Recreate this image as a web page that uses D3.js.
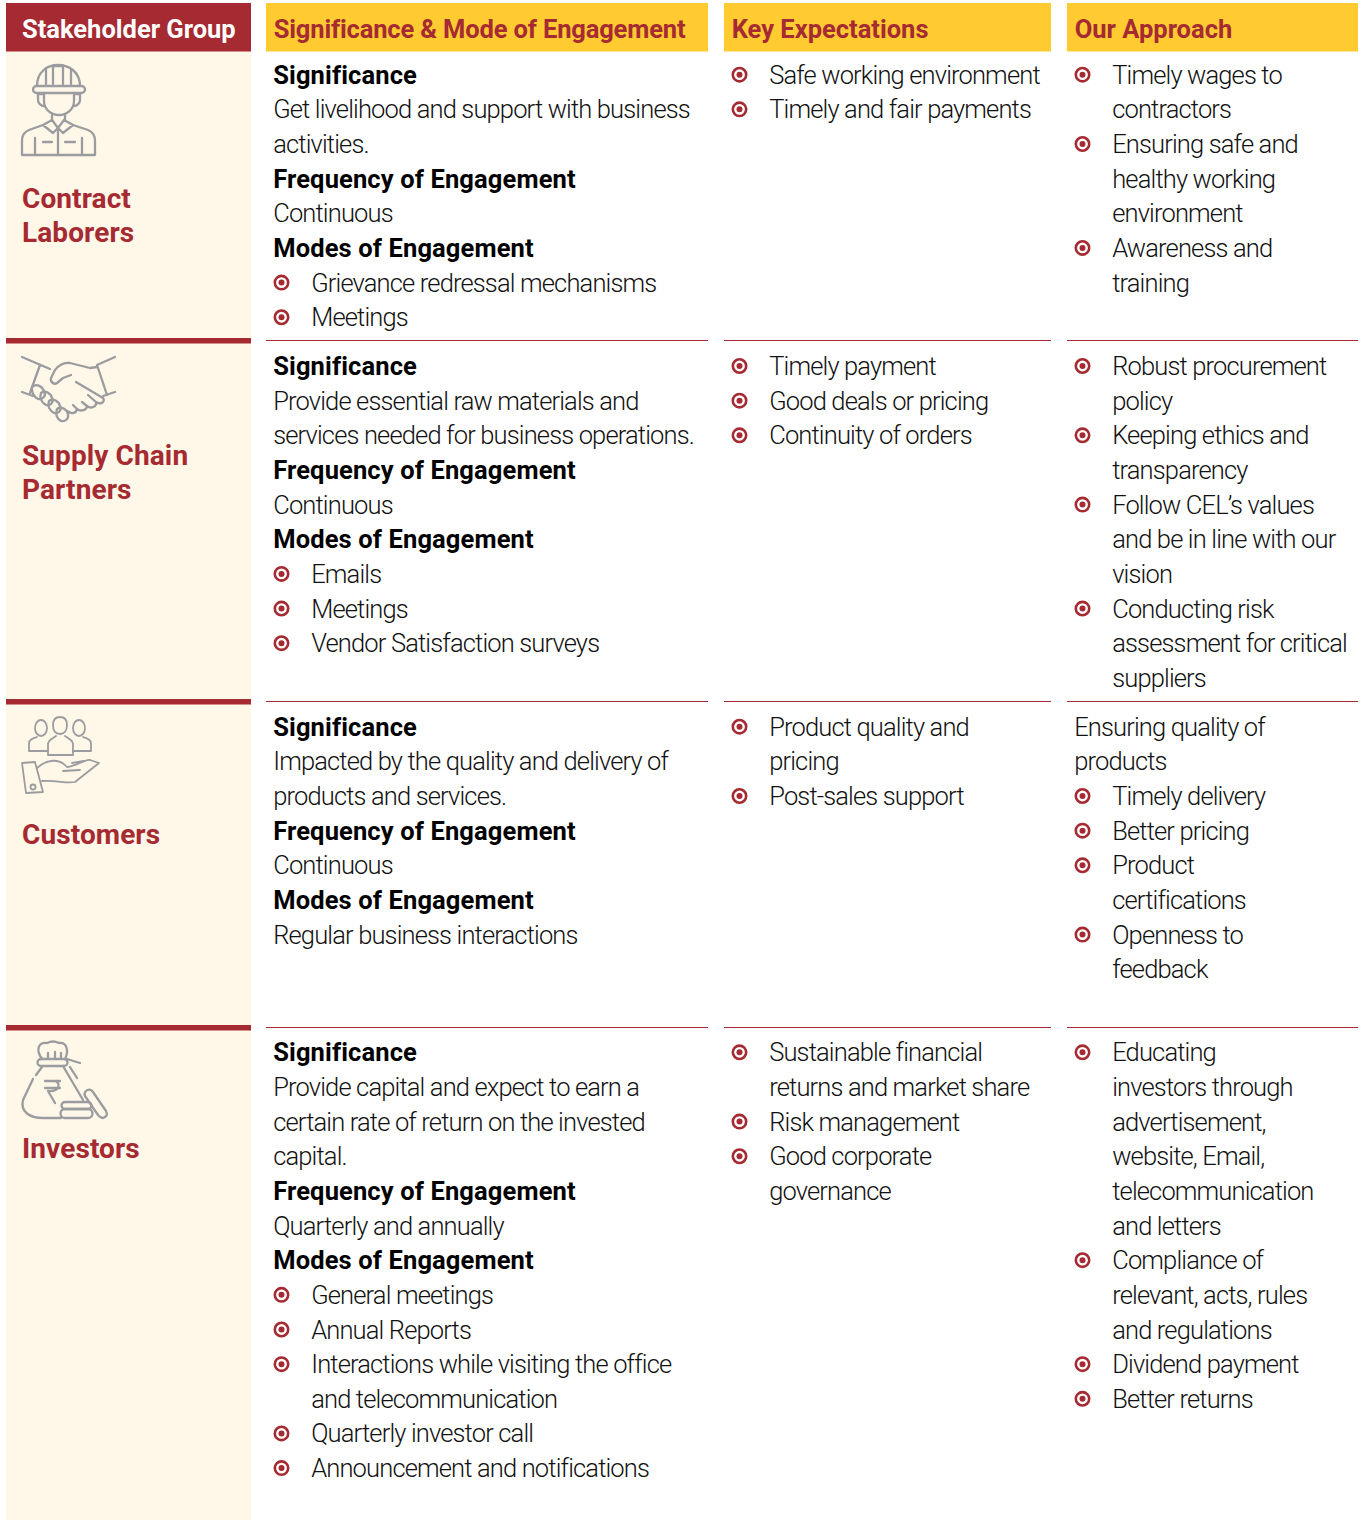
<!DOCTYPE html>
<html>
<head>
<meta charset="utf-8">
<script src="https://cdn.jsdelivr.net/npm/d3@7"></script>
<style>
html, body { margin: 0; padding: 0; background: #fff; }
svg { display: block; }
text { font-family: Roboto, sans-serif; }
.icon { fill: none; stroke: #9a9c9f; stroke-width: 2.3; stroke-linecap: round; stroke-linejoin: round; }
</style>
</head>
<body>
<svg id="chart" width="1363" height="1520"></svg>
<script>
var headers = ["Stakeholder Group", "Significance & Mode of Engagement", "Key Expectations", "Our Approach"];
var groups = [["Contract", "Laborers"], ["Supply Chain", "Partners"], ["Customers"], ["Investors"]];

// line kinds: h = bold heading, t = plain, b = bullet, c = continued bullet
var engagement = [
    [["h", "Significance"], ["t", "Get livelihood and support with business"], ["t", "activities."],
     ["h", "Frequency of Engagement"], ["t", "Continuous"], ["h", "Modes of Engagement"],
     ["b", "Grievance redressal mechanisms"], ["b", "Meetings"]],
    [["h", "Significance"], ["t", "Provide essential raw materials and"], ["t", "services needed for business operations."],
     ["h", "Frequency of Engagement"], ["t", "Continuous"], ["h", "Modes of Engagement"],
     ["b", "Emails"], ["b", "Meetings"], ["b", "Vendor Satisfaction surveys"]],
    [["h", "Significance"], ["t", "Impacted by the quality and delivery of"], ["t", "products and services."],
     ["h", "Frequency of Engagement"], ["t", "Continuous"], ["h", "Modes of Engagement"],
     ["t", "Regular business interactions"]],
    [["h", "Significance"], ["t", "Provide capital and expect to earn a"], ["t", "certain rate of return on the invested"], ["t", "capital."],
     ["h", "Frequency of Engagement"], ["t", "Quarterly and annually"], ["h", "Modes of Engagement"],
     ["b", "General meetings"], ["b", "Annual Reports"], ["b", "Interactions while visiting the office"],
     ["c", "and telecommunication"], ["b", "Quarterly investor call"], ["b", "Announcement and notifications"]]
];

var expectations = [
    [["b", "Safe working environment"], ["b", "Timely and fair payments"]],
    [["b", "Timely payment"], ["b", "Good deals or pricing"], ["b", "Continuity of orders"]],
    [["b", "Product quality and"], ["c", "pricing"], ["b", "Post-sales support"]],
    [["b", "Sustainable financial"], ["c", "returns and market share"], ["b", "Risk management"],
     ["b", "Good corporate"], ["c", "governance"]]
];

var approach = [
    [["b", "Timely wages to"], ["c", "contractors"], ["b", "Ensuring safe and"], ["c", "healthy working"],
     ["c", "environment"], ["b", "Awareness and"], ["c", "training"]],
    [["b", "Robust procurement"], ["c", "policy"], ["b", "Keeping ethics and"], ["c", "transparency"],
     ["b", "Follow CEL\u2019s values"], ["c", "and be in line with our"], ["c", "vision"],
     ["b", "Conducting risk"], ["c", "assessment for critical"], ["c", "suppliers"]],
    [["t", "Ensuring quality of"], ["t", "products"], ["b", "Timely delivery"], ["b", "Better pricing"],
     ["b", "Product"], ["c", "certifications"], ["b", "Openness to"], ["c", "feedback"]],
    [["b", "Educating"], ["c", "investors through"], ["c", "advertisement,"], ["c", "website, Email,"],
     ["c", "telecommunication"], ["c", "and letters"], ["b", "Compliance of"], ["c", "relevant, acts, rules"],
     ["c", "and regulations"], ["b", "Dividend payment"], ["b", "Better returns"]]
];

var RED = "#a52a31", YELLOW = "#ffcb31", CREAM = "#fff7e8", INK = "#111";
var colX = [[6, 251], [266, 708], [724, 1051], [1067, 1358]];
var rowTop = [51, 340, 701, 1027];
var firstBaseline = [83.7, 375, 735.7, 1061.3];
var LINE = 34.65;

var svg = d3.select("#chart");

svg.append("rect").attr("x", 6).attr("y", 51).attr("width", 245).attr("height", 1469).attr("fill", CREAM);

// headers
var head = svg.selectAll("g.head").data(headers).enter().append("g").attr("class", "head");
head.append("rect")
    .attr("x", function(d, i) { return colX[i][0]; })
    .attr("y", 3)
    .attr("width", function(d, i) { return colX[i][1] - colX[i][0]; })
    .attr("height", 48.5)
    .attr("fill", function(d, i) { return i == 0 ? RED : YELLOW; });
head.append("text")
    .attr("x", function(d, i) { return i == 0 ? 22 : colX[i][0] + 7.7; })
    .attr("y", 38)
    .attr("font-size", 25.5)
    .attr("font-weight", 700)
    .attr("letter-spacing", function(d, i) { return i == 1 ? -0.15 : 0; })
    .attr("fill", function(d, i) { return i == 0 ? "#fff" : RED; })
    .text(function(d) { return d; });

// separators between rows
rowTop.slice(1).forEach(function(y) {
    svg.append("rect").attr("x", 6).attr("y", y - 2).attr("width", 245).attr("height", 5.5).attr("fill", RED);
    colX.slice(1).forEach(function(c) {
        svg.append("line").attr("x1", c[0]).attr("x2", c[1]).attr("y1", y + 0.5).attr("y2", y + 0.5)
            .attr("stroke", RED).attr("stroke-width", 1);
    });
});

// group names
var nameY = [207.7, 464.7, 843.7, 1157.7];
groups.forEach(function(lines, r) {
    svg.selectAll(null).data(lines).enter().append("text")
        .attr("x", 22)
        .attr("y", function(d, i) { return nameY[r] + i * LINE; })
        .attr("font-size", 28)
        .attr("font-weight", 700)
        .attr("letter-spacing", 0.1)
        .attr("fill", RED)
        .text(function(d) { return d; });
});

function drawCell(lines, col, row) {
    var x0 = colX[col][0] + 7.2;
    var y = d3.scaleLinear().domain([0, 1]).range([firstBaseline[row], firstBaseline[row] + LINE]);
    var g = svg.append("g");
    g.selectAll("text").data(lines).enter().append("text")
        .attr("x", function(d) { return d[0] == "b" || d[0] == "c" ? x0 + 38 : x0; })
        .attr("y", function(d, i) { return y(i); })
        .attr("font-size", 25.5)
        .attr("font-weight", function(d) { return d[0] == "h" ? 700 : 300; })
        .attr("letter-spacing", function(d) { return d[0] == "h" ? 0.13 : -0.85; })
        .attr("fill", function(d) { return d[0] == "h" ? "#000" : INK; })
        .text(function(d) { return d[1]; });
    var bullets = [];
    lines.forEach(function(d, i) { if (d[0] == "b") bullets.push(i); });
    g.selectAll("circle.ring").data(bullets).enter().append("circle")
        .attr("class", "ring")
        .attr("cx", x0 + 8.3).attr("cy", function(i) { return y(i) - 9; })
        .attr("r", 6.7).attr("fill", "none").attr("stroke", RED).attr("stroke-width", 2.6);
    g.selectAll("circle.dot").data(bullets).enter().append("circle")
        .attr("class", "dot")
        .attr("cx", x0 + 8.3).attr("cy", function(i) { return y(i) - 9; })
        .attr("r", 3).attr("fill", RED);
}

engagement.forEach(function(c, r) { drawCell(c, 1, r); });
expectations.forEach(function(c, r) { drawCell(c, 2, r); });
approach.forEach(function(c, r) { drawCell(c, 3, r); });

// icons
function icon(top, paths) {
    var g = svg.append("g").attr("class", "icon").attr("transform", "translate(22," + top + ")");
    paths.forEach(function(p) { g.append("path").attr("d", p); });
    return g;
}

icon(51, [
    "M15 35C15 21 25 14 36 14C47 14 58 21 58 35",
    "M24 33V19M31 33V15H41V33M49 33V19",
    "M14.500 35H59.500A3.500 3.500 0 0 1 59.500 42H14.500A3.500 3.500 0 0 1 14.500 35Z",
    "M22 42V50C22 59 30 64 37 64C44 64 52 59 52 50V42",
    "M22 43H16V49C16 52 19 55 22 55M52 43H58V49C58 52 55 55 52 55",
    "M30 64V69M43 64V69",
    "M21 74L30 69L36 77L31 82ZM51 74L42 69L36 77L41 82Z",
    "M21 74L7 79C2 81 0 85 0 90V104H73V90C73 85 71 81 66 79L51 74",
    "M13 87V104M36 77V104M60 87V104M21 91H30M43 91H53"
]);

icon(343, [
    "M0 14L28 26M18 22L8 50M0 49L11 53",
    "M93 14L75 22M75 22L85 52M93 49L81 53",
    "M75 24L68 25L48 20C41 19 36 23 33 27L29 35C28 39 32 42 35 40L41 35L49 32",
    "M54 39L81 55C84 59 78 62 74 59L66 52M74 59C75 64 69 66 65 63L60 59M65 63C65 67 59 69 55 66L51 62M55 66C54 71 49 71 45 68",
    "M10 44C14 40 20 43 22 48C25 53 20 57 16 56C12 54 9 49 10 44Z",
    "M19 50C23 47 29 50 30 55C32 60 28 63 24 62C20 60 17 55 19 50Z",
    "M27 58C31 55 37 58 38 63C40 68 36 71 32 70C28 68 25 63 27 58Z",
    "M35 66C39 63 45 66 46 71C47 76 43 79 39 78C35 76 33 71 35 66Z"
]);

icon(704, [
    "M13 24C13 19 16 16 19 16C22 16 25 19 25 24C25 29 22 32 19 32C16 32 13 29 13 24Z",
    "M31 21C31 15 34 13 38 13C42 13 45 15 45 21C45 27 42 30 38 30C34 30 31 27 31 21Z",
    "M51 24C51 19 54 16 57 16C60 16 63 19 63 24C63 29 60 32 57 32C54 32 51 29 51 24Z",
    "M26 47H7V39C7 35 12 34 15 33M51 47H69V39C69 35 64 34 61 33",
    "M26 51V40C26 36 31 34 34 32M51 51V40C51 36 46 34 43 32M26 51H51",
    "M0 59L13 58L21 88L4 89Z",
    "M15 64C25 55 37 54 45 63C55 62 63 55 68 56L77 59L53 78C45 80 35 76 20 77",
    "M41 67L58 66M50 59L62 57"
]).style("stroke-width", 1.8).append("circle").attr("cx", 11).attr("cy", 83).attr("r", 2.5);

icon(1029, [
    "M20 30C13 20 17 13 25 14C29 12 33 12 37 14C45 13 47 22 43 30",
    "M26 29V24M33 29V23M39 29V24",
    "M19 30H42A3.500 3.500 0 0 1 42 37H19A3.500 3.500 0 0 1 19 30Z",
    "M20 38L14 46M11 50L1 71C-2 83 8 89 21 89H39",
    "M41 37L61 71",
    "M45 30L58 34M48 38L55 49",
    "M23 52H38M23 59H38M33 52C39 54 38 63 26 62L33 74",
    "M43 73H66A3.500 3.500 0 0 1 66 80H43A3.500 3.500 0 0 1 43 73Z",
    "M43 80H66A4.500 4.500 0 0 1 66 89H43A4.500 4.500 0 0 1 43 80Z",
    "M64 62C66 60 69 60 71 63L84 82C86 86 84 88 81 89C79 89 78 88 76 86L63 67C62 65 63 63 64 62Z"
]);
</script>
</body>
</html>
